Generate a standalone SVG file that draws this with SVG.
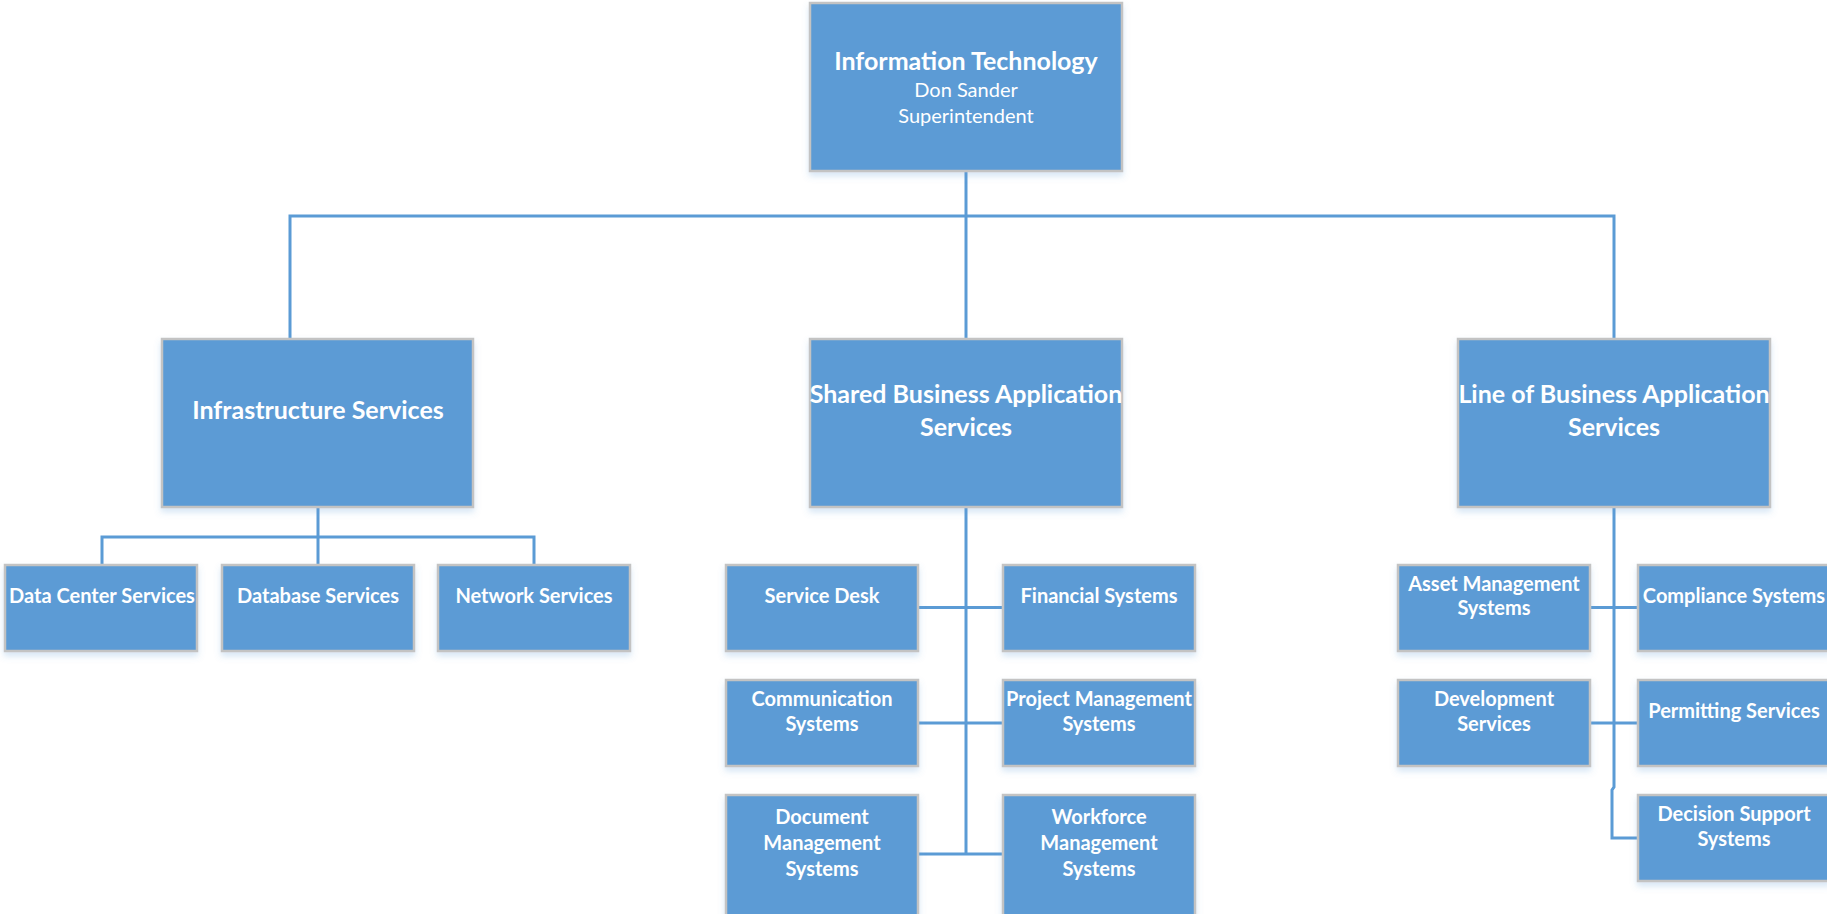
<svg xmlns="http://www.w3.org/2000/svg" width="1827" height="914" viewBox="0 0 1827 914">
<defs>
<filter id="sh" x="-10%" y="-10%" width="120%" height="130%">
<feDropShadow dx="0" dy="4" stdDeviation="3" flood-color="#5B9BD5" flood-opacity="0.25"/>
</filter>
<style>
.box{fill:#5B9BD5;stroke:#C3C3C3;stroke-width:2.5;filter:url(#sh)}
.t{font-family:Lato,"Open Sans","Liberation Sans",sans-serif;fill:#FFFFFF;text-anchor:middle}
.b{font-weight:bold}
.l2{font-size:25px}
.l3{font-size:20px}
.r{font-size:20px;font-weight:normal}
.c{fill:none;stroke:#5B9BD5;stroke-width:3}
</style>
</defs>
<rect width="1827" height="914" fill="#FFFFFF"/>
<g id="connectors">
<path class="c" d="M966 171 V339"/>
<path class="c" d="M290 339 V216 H1614 V339"/>
<path class="c" d="M318 507 V565"/>
<path class="c" d="M102 565 V537 H534 V565"/>
<path class="c" d="M966 507 V854"/>
<path class="c" d="M918 607.5 H1003"/>
<path class="c" d="M918 723 H1003"/>
<path class="c" d="M918 854 H1003"/>
<path class="c" d="M1614 507 V787 L1612 790 V838 H1638"/>
<path class="c" d="M1590 607.5 H1638"/>
<path class="c" d="M1590 723 H1638"/>
</g>
<g id="n-it">
<rect class="box" x="810" y="3" width="312" height="168"/>
<text class="t b l2" x="966" y="70">Information Technology</text>
<text class="t r" x="966" y="97">Don Sander</text>
<text class="t r" x="966" y="123">Superintendent</text>
</g>
<g id="n-infra">
<rect class="box" x="162" y="339" width="311" height="168"/>
<text class="t b l2" x="318" y="419">Infrastructure Services</text>
</g>
<g id="n-shared">
<rect class="box" x="810" y="339" width="312" height="168"/>
<text class="t b l2" x="966" y="403">Shared Business Application</text>
<text class="t b l2" x="966" y="436">Services</text>
</g>
<g id="n-lob">
<rect class="box" x="1458" y="339" width="312" height="168"/>
<text class="t b l2" x="1614" y="403">Line of Business Application</text>
<text class="t b l2" x="1614" y="436">Services</text>
</g>
<g id="n-datacenter">
<rect class="box" x="5" y="565" width="192" height="86"/>
<text class="t b l3" x="102" y="603">Data Center Services</text>
</g>
<g id="n-database">
<rect class="box" x="222" y="565" width="192" height="86"/>
<text class="t b l3" x="318" y="603">Database Services</text>
</g>
<g id="n-network">
<rect class="box" x="438" y="565" width="192" height="86"/>
<text class="t b l3" x="534" y="603">Network Services</text>
</g>
<g id="n-servicedesk">
<rect class="box" x="726" y="565" width="192" height="86"/>
<text class="t b l3" x="822" y="603">Service Desk</text>
</g>
<g id="n-financial">
<rect class="box" x="1003" y="565" width="192" height="86"/>
<text class="t b l3" x="1099" y="603">Financial Systems</text>
</g>
<g id="n-communication">
<rect class="box" x="726" y="680" width="192" height="86"/>
<text class="t b l3" x="822" y="706">Communication</text>
<text class="t b l3" x="822" y="731">Systems</text>
</g>
<g id="n-project">
<rect class="box" x="1003" y="680" width="192" height="86"/>
<text class="t b l3" x="1099" y="706">Project Management</text>
<text class="t b l3" x="1099" y="731">Systems</text>
</g>
<g id="n-document">
<rect class="box" x="726" y="795" width="192" height="122"/>
<text class="t b l3" x="822" y="824">Document</text>
<text class="t b l3" x="822" y="850">Management</text>
<text class="t b l3" x="822" y="876">Systems</text>
</g>
<g id="n-workforce">
<rect class="box" x="1003" y="795" width="192" height="122"/>
<text class="t b l3" x="1099" y="824">Workforce</text>
<text class="t b l3" x="1099" y="850">Management</text>
<text class="t b l3" x="1099" y="876">Systems</text>
</g>
<g id="n-asset">
<rect class="box" x="1398" y="565" width="192" height="86"/>
<text class="t b l3" x="1494" y="591">Asset Management</text>
<text class="t b l3" x="1494" y="615">Systems</text>
</g>
<g id="n-compliance">
<rect class="box" x="1638" y="565" width="192" height="86"/>
<text class="t b l3" x="1734" y="603">Compliance Systems</text>
</g>
<g id="n-development">
<rect class="box" x="1398" y="680" width="192" height="86"/>
<text class="t b l3" x="1494" y="706">Development</text>
<text class="t b l3" x="1494" y="731">Services</text>
</g>
<g id="n-permitting">
<rect class="box" x="1638" y="680" width="192" height="86"/>
<text class="t b l3" x="1734" y="718">Permitting Services</text>
</g>
<g id="n-decision">
<rect class="box" x="1638" y="795" width="192" height="86"/>
<text class="t b l3" x="1734" y="821">Decision Support</text>
<text class="t b l3" x="1734" y="846">Systems</text>
</g>
</svg>
